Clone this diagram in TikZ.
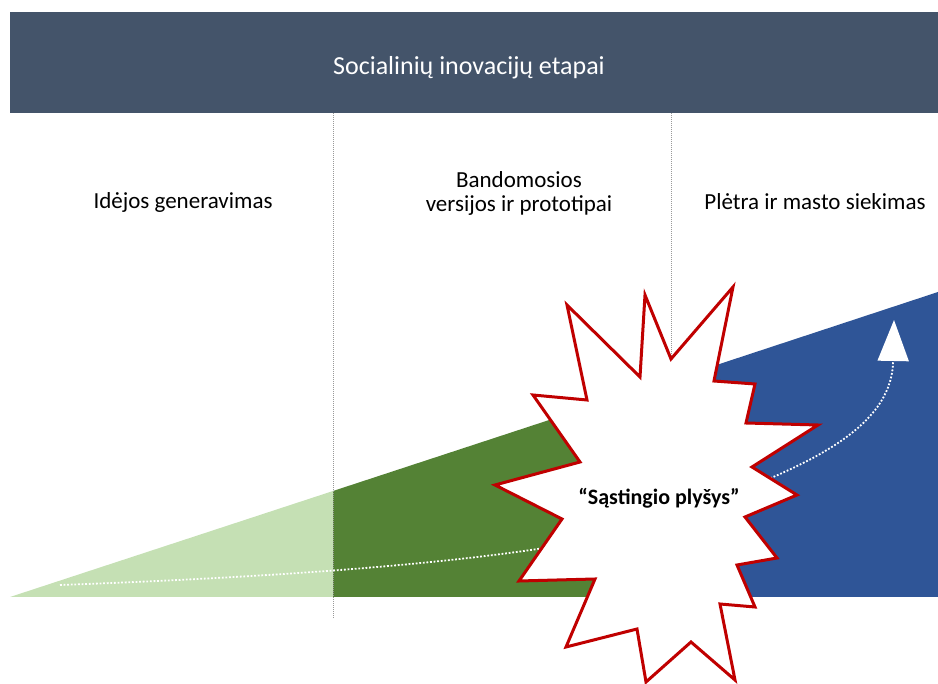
\documentclass[tikz,border=0pt]{standalone}
\usepackage{fontspec}
\setmainfont{Carlito}
\usepackage{xcolor}
\usetikzlibrary{positioning,arrows.meta}

\definecolor{headerblue}{HTML}{44546A}
\definecolor{lightgreen}{HTML}{C5E0B4}
\definecolor{darkgreen}{HTML}{548235}
\definecolor{scaleblue}{HTML}{2F5597}
\definecolor{burstred}{HTML}{C00000}

\begin{document}
\begin{tikzpicture}[
    x=1pt,
    y=-1pt,
    header/.style={
        rectangle,
        fill=headerblue,
        minimum width=928pt,
        minimum height=101pt,
        inner sep=0pt
    },
    title/.style={
        anchor=base,
        text=white,
        font=\fontsize{26}{30}\selectfont
    },
    phase/.style={
        anchor=base,
        align=center,
        font=\fontsize{23}{24}\selectfont
    },
    divider/.style={draw=gray!80, line width=0.9pt, dash pattern=on 1pt off 1pt},
    burst/.style={draw=burstred, fill=white, line width=3pt, line join=miter},
    path/.style={draw=white, line width=1.8pt, dash pattern=on 1.8pt off 1.8pt,
        -{Triangle[length=41pt,width=31pt,fill=white]}}
]
    \useasboundingbox (0,0) rectangle (938,684);

    % Header
    \node[header] (header) at (474,62.5) {};
    \node[title] (headertext) at (469,75) {Socialinių inovacijų etapai};

    % Phase labels
    \node[phase] (ideas) at (183,209) {Idėjos generavimas};
    \node[phase] (pilots) at (519,212) {Bandomosios\\versijos ir prototipai};
    \node[phase] (scaling) at (815,210) {Plėtra ir masto siekimas};

    % Growth wedge
    \fill[lightgreen] (10,597) -- (333,597) -- (333,491) -- cycle;
    \fill[darkgreen] (333,597) -- (333,491) -- (671,380) -- (671,597) -- cycle;
    \fill[scaleblue] (671,597) -- (671,380) -- (938,292) -- (938,597) -- cycle;

    % Dividers
    \draw[divider] (333,113) -- (333,618);
    \draw[divider] (671,113) -- (671,597);

    % Innovation path
    \coordinate (start) at (60,585);
    \coordinate (hidden) at (700,505);
    \coordinate (tip) at (894,320);
    \draw[path] (start) .. controls (420,572) and (640,545) .. (hidden)
        .. controls (830,460) and (892,420) .. (tip);

    % Valley of death
    \draw[burst] (567,305) -- (640,377) -- (645,295) -- (671,359) -- (733,287)
        -- (714,381) -- (755,384) -- (746,423) -- (818,425) -- (752,467)
        -- (797,495) -- (745,517) -- (777,558) -- (737,565) -- (755,607)
        -- (720,604) -- (735,680) -- (691,642) -- (646,682) -- (637,629)
        -- (566,647) -- (595,579) -- (519,581) -- (562,519) -- (495,485)
        -- (580,462) -- (533,395) -- (587,400) -- cycle;
    \node[anchor=base, font=\fontsize{22}{24}\selectfont\bfseries] (gap) at (659,505) {“Sąstingio plyšys”};
\end{tikzpicture}
\end{document}
